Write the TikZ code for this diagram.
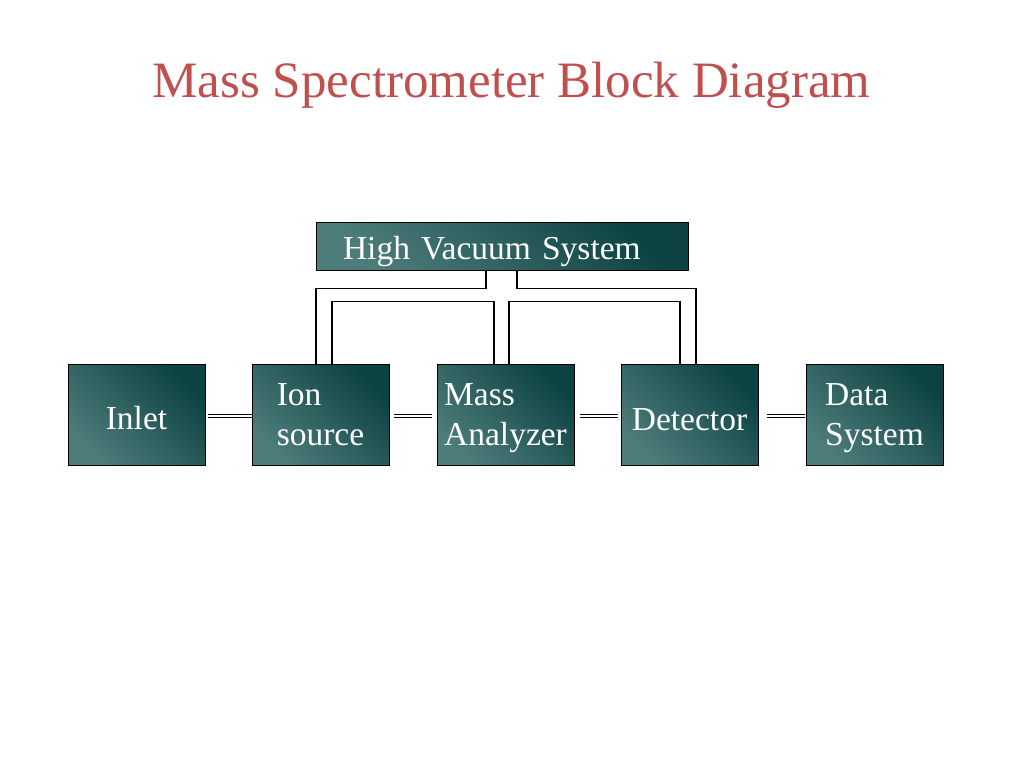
\documentclass[tikz,border=0pt]{standalone}
\usepackage{fontspec}
\setmainfont{Liberation Serif}

\definecolor{titlered}{HTML}{C0504D}
\definecolor{boxdark}{HTML}{0C4242}
\definecolor{boxlight}{HTML}{4D7D7B}

\begin{document}
\begin{tikzpicture}[x=1pt, y=-1pt,
    block/.style={draw=black, line width=1pt, top color=boxdark, bottom color=boxlight,
        shading angle=-45, minimum width=137pt, minimum height=101pt, inner sep=0pt,
        text=white, align=left, font=\fontsize{33.5}{40}\selectfont},
    pipe/.style={draw=black, line width=1.9pt, double=white, double distance=1.1pt},
    vac/.style={draw=black, line width=1.9pt}]

    \fill[white] (0,0) rectangle (1024,768);
    \useasboundingbox (0,0) rectangle (1024,768);

    \node[anchor=base, text=titlered, font=\fontsize{51}{60}\selectfont] (title) at (511.5,97)
        {Mass Spectrometer Block Diagram};

    \node[block, minimum width=372pt, minimum height=48pt, text width=318pt,
        inner xsep=27pt, text height=35pt] (hvs) at (502,246) {High Vacuum System};

    \node[block, text height=31pt] (inlet) at (136.5,414.5) {Inlet};
    \node[block] (ion) at (320.5,414.5) {Ion\\source};
    \node[block, text depth=0pt] (mass) at (505.5,414.5) {Mass\\Analyzer};
    \node[block, text height=33pt] (det) at (689.5,414.5) {Detector};
    \node[block, text depth=0pt] (data) at (874.5,414.5) {Data\\System};

    % vacuum lines
    \draw[vac] ([xshift=-16pt]hvs.south) -- ++(0,18) -| ([xshift=-4.5pt]ion.north);
    \draw[vac] ([xshift=15pt]hvs.south) -- ++(0,18) -| ([xshift=6.5pt]det.north);
    \draw[vac] ([xshift=11.5pt]ion.north) -- ++(0,-62) -| ([xshift=-11.5pt]mass.north);
    \draw[vac] ([xshift=3.5pt]mass.north) -- ++(0,-62) -| ([xshift=-9.5pt]det.north);

    % sample path
    \draw[pipe, shorten <=2pt] ([yshift=-1.5pt]inlet.east) -- ([yshift=-1.5pt]ion.west);
    \draw[pipe, shorten <=4pt, shorten >=5pt] ([yshift=-1.5pt]ion.east) -- ([yshift=-1.5pt]mass.west);
    \draw[pipe, shorten <=5pt, shorten >=3pt] ([yshift=-1.5pt]mass.east) -- ([yshift=-1.5pt]det.west);
    \draw[pipe, shorten <=8pt, shorten >=1pt] ([yshift=-1.5pt]det.east) -- ([yshift=-1.5pt]data.west);
\end{tikzpicture}
\end{document}
